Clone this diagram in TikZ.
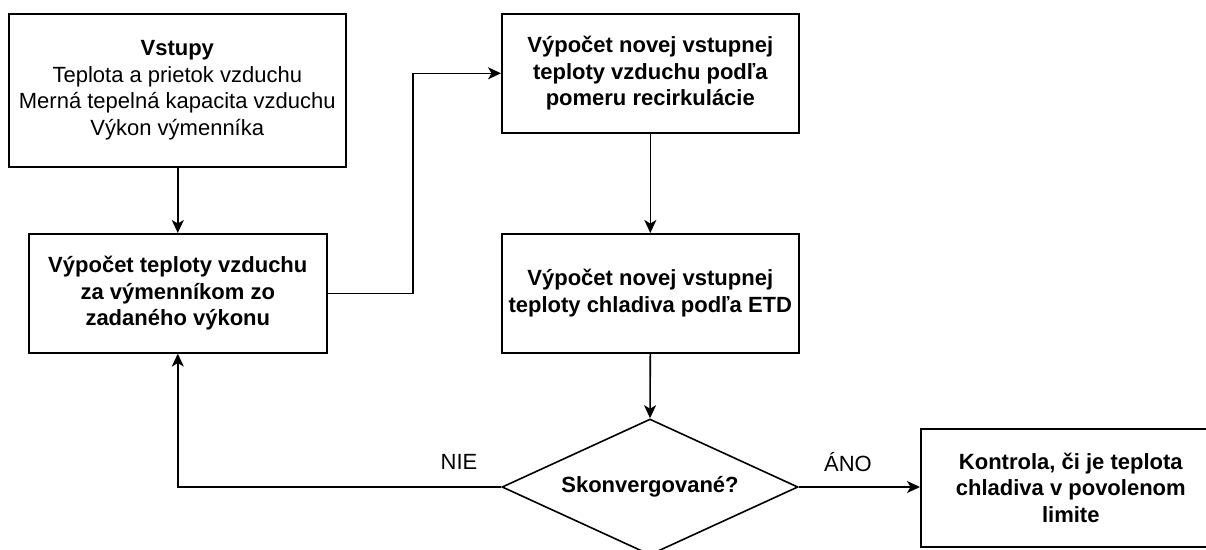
\documentclass[tikz,border=0pt]{standalone}
\usepackage{fontspec}
\setmainfont{Liberation Sans}
\usetikzlibrary{arrows.meta,shapes.geometric}
\begin{document}
\begin{tikzpicture}[x=1pt,y=-1pt,
  every node/.style={font=\fontsize{22}{26.5}\selectfont},
  box/.style={draw,line width=1.6pt,align=center,inner sep=0pt,anchor=north west},
  conn/.style={line width=1.6pt,-{Stealth[length=13pt,width=12pt,inset=3.5pt]}},
  lbl/.style={inner sep=0pt}]
\useasboundingbox (0,0) rectangle (1206,549);
\node[box,minimum width=337pt,minimum height=153pt] (in) at (8,13)
  {\textbf{Vstupy}\\Teplota a prietok vzduchu\\Merná tepelná kapacita vzduchu\\Výkon výmenníka};
\node[box,minimum width=298pt,minimum height=119pt,font=\fontsize{22}{26.5}\selectfont\bfseries] (t) at (28,233)
  {Výpočet teploty vzduchu\\za výmenníkom zo\\zadaného výkonu};
\node[box,minimum width=297pt,minimum height=119pt,font=\fontsize{22}{26.5}\selectfont\bfseries] (r) at (501,13)
  {Výpočet novej vstupnej\\teploty vzduchu podľa\\pomeru recirkulácie};
\node[box,minimum width=297pt,minimum height=119pt,font=\fontsize{22}{26.5}\selectfont\bfseries] (e) at (501,233)
  {Výpočet novej vstupnej\\teploty chladiva podľa ETD};
\node[draw,diamond,line width=1.6pt,inner sep=0pt,aspect=2.18,minimum width=296pt,minimum height=136pt,font=\fontsize{22}{26.5}\selectfont\bfseries] (d) at (650,487) {Skonvergované?};
\node[box,minimum width=300pt,minimum height=118pt,font=\fontsize{22}{26.5}\selectfont\bfseries] (k) at (920,428)
  {Kontrola, či je teplota\\chladiva v povolenom\\limite};
\coordinate (j1) at (413,0);
\draw[conn] (in.south -| t.north) -- (t.north);
\draw[conn] (t.east) -| (j1 |- r.west) -- (r.west);
\draw[conn] (r.south) -- (e.north);
\draw[conn] (e.south) -- (d.north);
\draw[conn] (d.west) -| (t.south);
\draw[conn] (d.east) -- (k.west |- d.east);
\node[lbl] (nie) at (459,462) {NIE};
\node[lbl] (ano) at (848,462) {ÁNO};
\end{tikzpicture}
\end{document}
